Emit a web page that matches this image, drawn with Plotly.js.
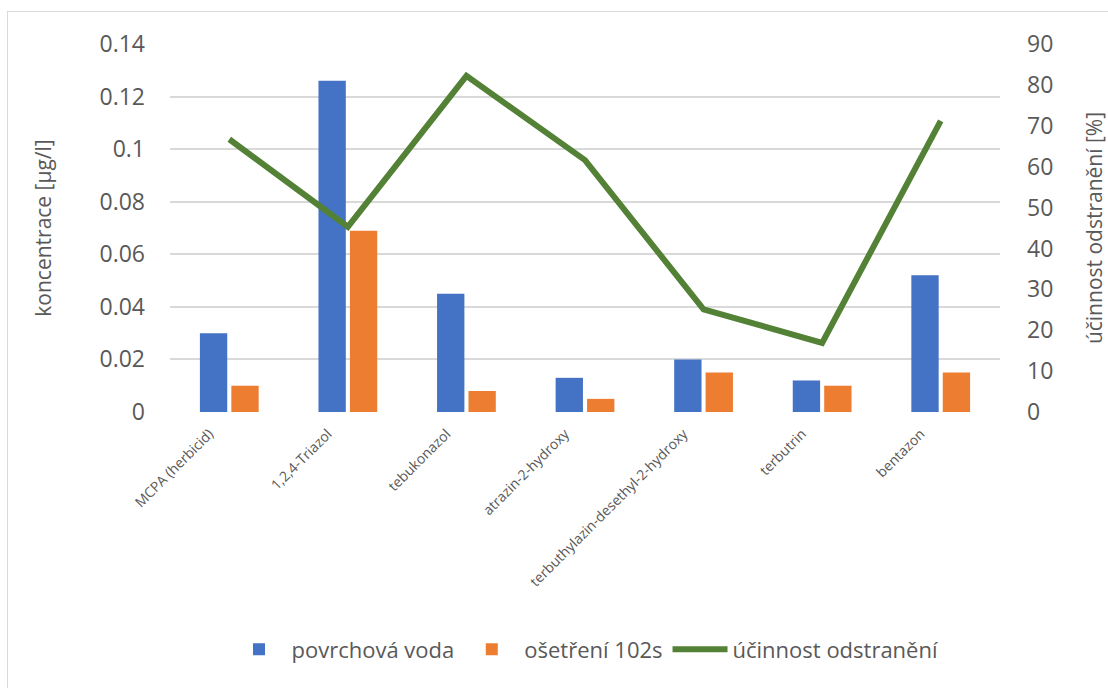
<!DOCTYPE html>
<html>
<head>
<meta charset="utf-8">
<script src="https://cdn.plot.ly/plotly-3.0.1.min.js"></script>
<style>
html,body{margin:0;padding:0;background:#fff;}
#frame{position:absolute;left:7px;top:11px;width:1110px;height:690px;border:1.5px solid #d9d9d9;box-sizing:border-box;}
#chart{position:absolute;left:0;top:0;width:1108px;height:688px;}
</style>
</head>
<body>
<div id="frame"></div>
<div id="chart"></div>
<script>
const categories = ["MCPA (herbicid)", "1,2,4-Triazol", "tebukonazol", "atrazin-2-hydroxy", "terbuthylazin-desethyl-2-hydroxy", "terbutrin", "bentazon"];
const povrchovaVoda = [0.030, 0.126, 0.045, 0.013, 0.020, 0.012, 0.052];
const osetreni102s = [0.010, 0.069, 0.008, 0.005, 0.015, 0.010, 0.015];
const ucinnost = [66.7, 45.3, 82.2, 61.6, 25.1, 16.9, 71.2];
const leftTicks = [0, 0.02, 0.04, 0.06, 0.08, 0.1, 0.12, 0.14];
const leftTickText = ["0", "0.02", "0.04", "0.06", "0.08", "0.1", "0.12", "0.14"];
const rightTicks = [0, 10, 20, 30, 40, 50, 60, 70, 80, 90];

const FONT = "Open Sans, Noto Sans, sans-serif";
const grey = "#595959";

const data = [
  {type: "bar", name: "povrchová voda", x: categories, y: povrchovaVoda, marker: {color: "#4472C4"}},
  {type: "bar", name: "ošetření 102s", x: categories, y: osetreni102s, marker: {color: "#ED7D31"}},
  {type: "scatter", mode: "lines", name: "účinnost odstranění", x: categories, y: ucinnost, yaxis: "y2",
   line: {color: "#538135", width: 6}}
];

const layout = {
  width: 1108, height: 688,
  paper_bgcolor: "rgba(0,0,0,0)", plot_bgcolor: "rgba(0,0,0,0)",
  margin: {l: 170, r: 108, t: 44, b: 276},
  font: {family: FONT, color: grey},
  barmode: "group", bargap: 0.47, bargroupgap: 0.13,
  showlegend: true,
  legend: {orientation: "h", x: 0.5, xanchor: "center", y: -0.645, yanchor: "middle",
           font: {size: 22, color: grey}, itemwidth: 55, traceorder: "normal"},
  xaxis: {tickangle: -45, tickfont: {size: 14, color: grey}, showgrid: false, zeroline: false,
          showline: false, ticks: "", automargin: false, ticklabelshift: -20, ticklabelstandoff: 10},
  yaxis: {range: [0, 0.14], tickvals: leftTicks, ticktext: leftTickText, tickfont: {size: 23, color: grey},
          showgrid: true, gridcolor: "#d9d9d9", gridwidth: 2, zeroline: false, showline: false, ticks: "",
          ticklabelstandoff: 24,
          title: {text: "koncentrace [µg/l]", font: {size: 21, color: grey}, standoff: 42}, automargin: false},
  yaxis2: {range: [0, 90], tickvals: rightTicks, overlaying: "y", side: "right", showgrid: false, zeroline: false,
           tickfont: {size: 23, color: grey}, ticks: "", ticklabelstandoff: 26,
           title: {text: "účinnost odstranění [%]", font: {size: 21, color: grey}, standoff: 34}, automargin: false}
};

Plotly.newPlot("chart", data, layout, {displayModeBar: false, staticPlot: true});
</script>
</body>
</html>
